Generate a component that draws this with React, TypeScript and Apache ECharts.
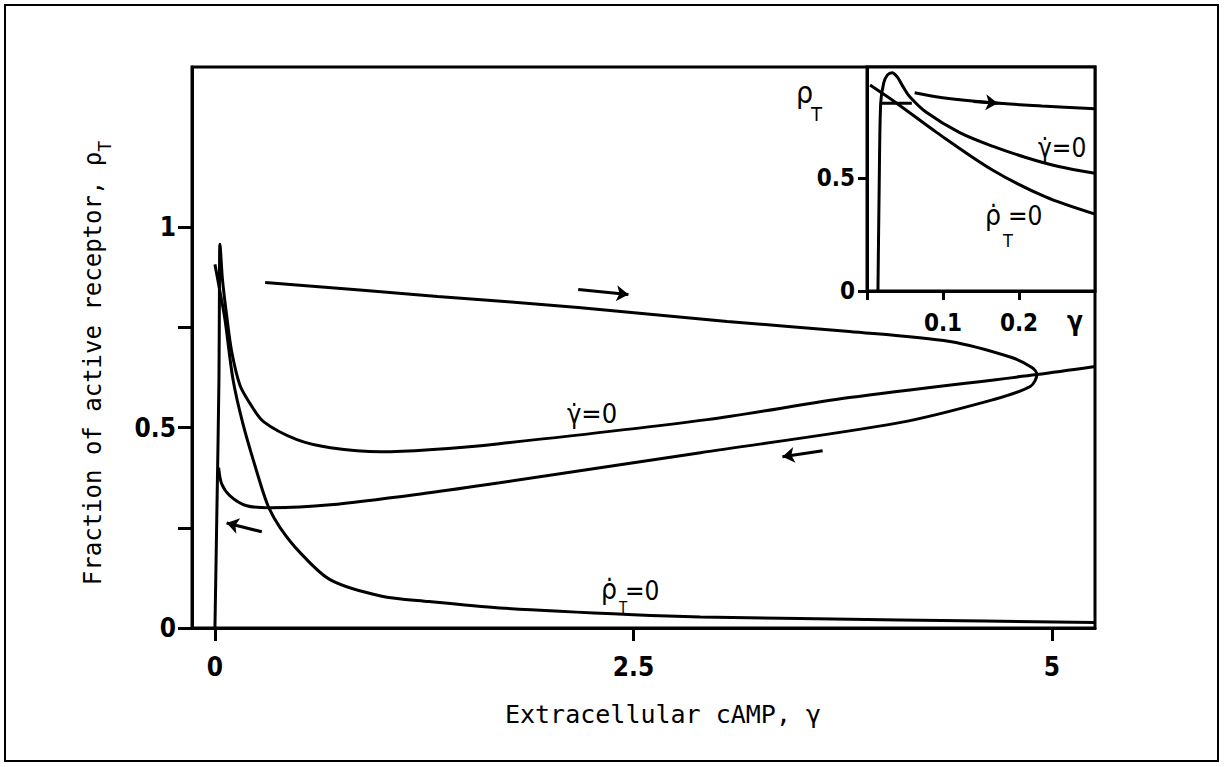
import React, { useEffect, useRef } from "react";
import * as echarts from "echarts";

const FONT = "'DejaVu Sans Condensed', 'Liberation Sans Narrow', 'DejaVu Sans', sans-serif";
const MONO = "'DejaVu Sans Mono', 'Liberation Mono', monospace";

// ---- main axes ----
const xTickValues = [0, 2.5, 5];
const xLabelValues = [0, 2.5, 5];
const yTickValues = [0, 0.25, 0.5, 0.75, 1];
const yLabelValues = [0, 0.5, 1];

// ---- inset axes ----
const insetXTickValues = [0, 0.1, 0.2];
const insetXLabelValues = [0.1, 0.2];
const insetYTickValues = [0, 0.5];
const insetYLabelValues = [0, 0.5];

// ---- main curves: [gamma, rhoT] ----
const rhoNullcline = [
  [0, 0.9075], [0.03, 0.84], [0.06, 0.77], [0.108, 0.62], [0.167, 0.51],
  [0.25, 0.39], [0.317, 0.305], [0.39, 0.25], [0.51, 0.1875], [0.69, 0.12],
  [0.99, 0.08], [1.28, 0.066], [1.7, 0.05], [2.5, 0.033], [2.9, 0.0275],
  [4.09, 0.02], [5.257, 0.014],
];

const gammaNullcline = [
  [0, 0], [0.012, 0.3], [0.024, 0.62], [0.027, 0.85], [0.03, 0.9575],
  [0.045, 0.87], [0.07, 0.78], [0.1, 0.69], [0.15, 0.605], [0.21, 0.56],
  [0.29, 0.515], [0.49, 0.47], [0.69, 0.45], [0.99, 0.44], [1.28, 0.445],
  [1.7, 0.46], [2.94, 0.52], [3.79, 0.575], [4.91, 0.6325], [5.257, 0.6525],
];

const limitCycle = [
  [0.3, 0.8625], [1.33, 0.8275], [2.17, 0.8], [3.06, 0.765], [3.79, 0.74],
  [4.39, 0.715], [4.76, 0.675], [4.88, 0.65], [4.91, 0.6325], [4.87, 0.6025],
  [4.65, 0.57], [4.09, 0.5125], [2.9, 0.4375], [1.7, 0.3625], [1.28, 0.3375],
  [0.69, 0.3075], [0.33, 0.3], [0.19, 0.305], [0.09, 0.33], [0.04, 0.36],
  [0.022, 0.4],
];

const arrowRight = [[2.17, 0.845], [2.47, 0.8325]];
const arrowLeftLower = [[3.63, 0.4425], [3.39, 0.4275]];
const arrowLeftBottom = [[0.28, 0.24], [0.07, 0.262]];

// ---- inset curves ----
const insetGammaNullcline = [
  [0.0144, 0], [0.016, 0.45], [0.018, 0.83], [0.022, 0.92], [0.027, 0.955],
  [0.033, 0.965], [0.04, 0.945], [0.048, 0.9], [0.056, 0.86], [0.078, 0.79],
  [0.122, 0.7], [0.165, 0.64], [0.209, 0.59], [0.252, 0.55], [0.3, 0.52],
];
const insetRhoNullcline = [
  [0.004, 0.91], [0.039, 0.83], [0.092, 0.7], [0.165, 0.535], [0.235, 0.416], [0.3, 0.34],
];
const insetLoop = [[0.0196, 0.83], [0.059, 0.83]];
const insetTrajectory = [
  [0.0627, 0.876], [0.0994, 0.854], [0.165, 0.832], [0.23, 0.818], [0.3, 0.805],
];
const insetArrow = [[0.14, 0.838], [0.172, 0.83]];

const fmt = (v: number) => (v === 0 ? "0" : String(v));

export default function App() {
  const ref = useRef<HTMLDivElement>(null);

  useEffect(() => {
    if (!ref.current) return;
    const chart = echarts.init(ref.current, undefined, { renderer: "svg" });

    const lineSeries = (data: number[][], xi: number, smooth: number) => ({
      type: "line",
      xAxisIndex: xi,
      yAxisIndex: xi,
      data,
      symbol: "none",
      showSymbol: false,
      smooth,
      silent: true,
      lineStyle: { color: "#000", width: 3 },
      z: 3,
    });

    const arrowSeries = (coords: number[][], xi: number, size: number) => ({
      type: "lines",
      coordinateSystem: "cartesian2d",
      xAxisIndex: xi,
      yAxisIndex: xi,
      symbol: ["none", "arrow"],
      symbolSize: size,
      silent: true,
      lineStyle: { color: "#000", width: 3, opacity: 1 },
      data: [{ coords }],
      z: 4,
    });

    const axisBase = {
      type: "value",
      splitLine: { show: false },
      axisLine: { show: true, onZero: false, lineStyle: { color: "#000", width: 3 } },
    };

    const mainTickLabel = { color: "#000", fontSize: 26, fontFamily: FONT, fontWeight: "bold" };
    const insetTickLabel = { color: "#000", fontSize: 24, fontFamily: FONT, fontWeight: "bold" };

    const label = (text: string, x: number, y: number, size: number, family = FONT, align = "left") => ({
      type: "text",
      x,
      y,
      silent: true,
      style: { text, fontSize: size, fontFamily: family, fill: "#000", align, verticalAlign: "middle" },
    });

    chart.setOption({
      animation: false,
      backgroundColor: "#fff",
      grid: [
        { left: 192, top: 67, width: 903, height: 561, show: true, borderColor: "#000", borderWidth: 3, backgroundColor: "transparent" },
        { left: 867, top: 67, width: 228, height: 224, show: true, borderColor: "#000", borderWidth: 3, backgroundColor: "#fff" },
      ],
      xAxis: [
        {
          ...axisBase,
          gridIndex: 0,
          min: -0.137,
          max: 5.257,
          axisTick: { show: true, customValues: xTickValues, length: 13, lineStyle: { color: "#000", width: 3 } },
          axisLabel: { ...mainTickLabel, customValues: xLabelValues, formatter: fmt, margin: 26 },
        },
        {
          ...axisBase,
          gridIndex: 1,
          min: 0,
          max: 0.3,
          axisTick: { show: true, customValues: insetXTickValues, length: 9, lineStyle: { color: "#000", width: 3 } },
          axisLabel: { ...insetTickLabel, customValues: insetXLabelValues, formatter: fmt, margin: 20 },
        },
      ],
      yAxis: [
        {
          ...axisBase,
          gridIndex: 0,
          min: 0,
          max: 1.4,
          axisTick: { show: true, customValues: yTickValues, length: 14, lineStyle: { color: "#000", width: 3 } },
          axisLabel: { ...mainTickLabel, customValues: yLabelValues, formatter: fmt, margin: 16 },
        },
        {
          ...axisBase,
          gridIndex: 1,
          min: 0,
          max: 0.99,
          axisTick: { show: true, customValues: insetYTickValues, length: 9, lineStyle: { color: "#000", width: 3 } },
          axisLabel: { ...insetTickLabel, customValues: insetYLabelValues, formatter: fmt, margin: 12 },
        },
      ],
      series: [
        lineSeries(rhoNullcline, 0, 0.3),
        lineSeries(gammaNullcline, 0, 0.3),
        lineSeries(limitCycle, 0, 0.3),
        arrowSeries(arrowRight, 0, 12),
        arrowSeries(arrowLeftLower, 0, 12),
        arrowSeries(arrowLeftBottom, 0, 12),
        lineSeries(insetGammaNullcline, 1, 0.3),
        lineSeries(insetRhoNullcline, 1, 0.3),
        lineSeries(insetLoop, 1, 0),
        lineSeries(insetTrajectory, 1, 0.3),
        arrowSeries(insetArrow, 1, 12),
      ],
      graphic: [
        {
          type: "rect",
          shape: { x: 5, y: 5, width: 1213, height: 756 },
          style: { fill: "none", stroke: "#000", lineWidth: 2 },
          silent: true,
        },
        {
          type: "text",
          x: 97,
          y: 363,
          rotation: Math.PI / 2,
          silent: true,
          style: {
            text: "{a|Fraction of active receptor, ρ}{s|T}",
            align: "center",
            verticalAlign: "middle",
            rich: {
              a: { fontSize: 24, fontFamily: MONO, fill: "#000", verticalAlign: "top" },
              s: { fontSize: 18, fontFamily: MONO, fill: "#000", verticalAlign: "top", padding: [14, 0, 0, 0] },
            },
          },
        },
        label("Extracellular cAMP, γ", 663, 714, 25, MONO, "center"),
        // main curve labels
        label("γ̇=0", 567, 413, 27),
        label("ρ̇", 601, 589, 28),
        label("=0", 625, 591, 26),
        label("T", 619, 608, 15),
        // inset labels
        label("γ̇=0", 1038, 148, 26),
        label("ρ̇", 985, 215, 28),
        label("=0", 1008, 216, 26),
        label("T", 1003, 240, 18),
        label("ρ", 796, 92, 30),
        label("T", 811, 114, 20),
        {
          type: "text", x: 1075, y: 321, silent: true,
          style: { text: "γ", fontSize: 26, fontFamily: FONT, fontWeight: "bold", fill: "#000", align: "center", verticalAlign: "middle" },
        },
      ],
    });

    return () => chart.dispose();
  }, []);

  return (
    <div
      ref={ref}
      style={{ position: "absolute", left: 0, top: 0, width: 1226, height: 767, background: "#fff" }}
    />
  );
}
